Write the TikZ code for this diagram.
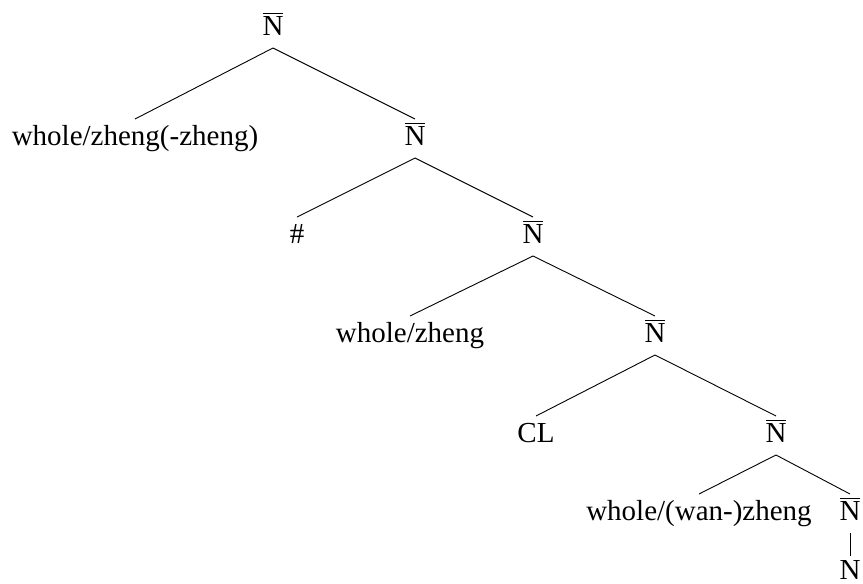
\documentclass[tikz,border=0pt]{standalone}
\usepackage{fontspec}
\setmainfont{Liberation Serif}
\newcommand\nbar{\leavevmode\vbox{\hrule height 0.8pt\kern 2pt\hbox{N}}}
\begin{document}
\begin{tikzpicture}[x=1pt,y=1pt,
  lab/.style={anchor=base,inner sep=0pt,font=\fontsize{29}{34}\selectfont},
  edge/.style={line width=0.9pt}]
\useasboundingbox (0,0) rectangle (863,-584);
\node[lab] (n0) at (273,-35) {\nbar};
\node[lab] (w1) at (135,-145) {whole/zheng(-zheng)};
\node[lab] (n1) at (415,-145) {\nbar};
\node[lab] (h2) at (297,-243) {\#};
\node[lab] (n2) at (533,-243) {\nbar};
\node[lab] (w3) at (410,-342) {whole/zheng};
\node[lab] (n3) at (655,-342) {\nbar};
\node[lab] (c4) at (536,-442) {CL};
\node[lab] (n4) at (776,-442) {\nbar};
\node[lab] (w5) at (699,-520) {whole/(wan-)zheng};
\node[lab] (n5) at (850,-520) {\nbar};
\node[lab] (n6) at (850,-579) {N};
\foreach \p/\c in {n0/w1,n0/n1,n1/h2,n1/n2,n2/w3,n2/n3,n3/c4,n3/n4,n4/w5,n4/n5}
  \draw[edge] ([yshift=-13pt]\p.base) -- ([yshift=26pt]\c.base);
\draw[edge] ([yshift=-13pt]n5.base) -- ([yshift=23pt]n6.base);
\end{tikzpicture}
\end{document}
